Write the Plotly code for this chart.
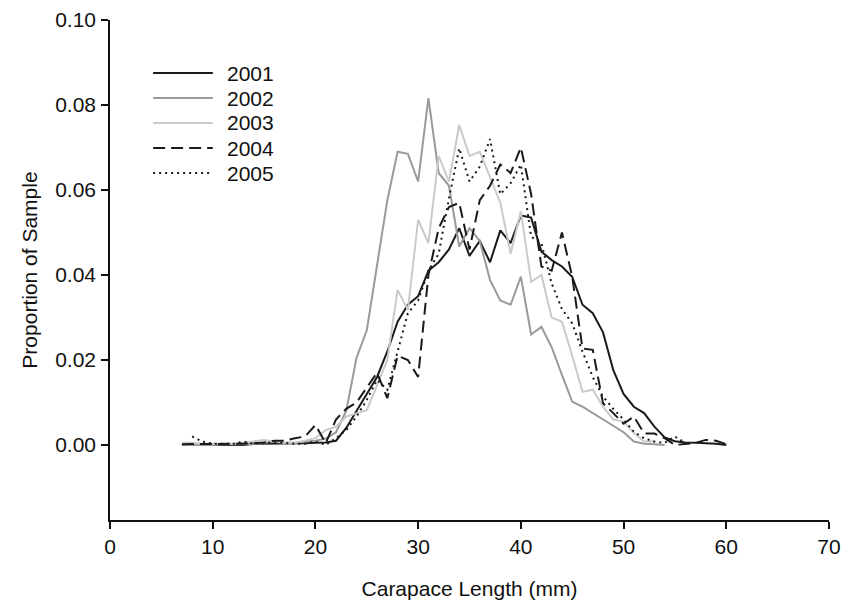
import plotly.graph_objects as go

lengths = list(range(7, 61))

y2001 = [0, 0, 0, 0, 0, 0, 0, 0.0003, 0.0003, 0.0003, 0.0003, 0.0003, 0.0004,
         0.0005, 0.0006, 0.001, 0.004, 0.008, 0.012, 0.016, 0.022, 0.029, 0.033, 0.035,
         0.041, 0.043, 0.046, 0.051, 0.0445, 0.048, 0.043, 0.0505, 0.0475, 0.054,
         0.0535, 0.0455, 0.0435, 0.042, 0.0396, 0.033, 0.031, 0.0265, 0.0176, 0.012,
         0.009, 0.0075, 0.0043, 0.0018, 0.0009, 0.0006, 0.0005, 0.0004, 0.0003, 0.0]

y2002 = [0, 0, 0, 0, 0.0002, 0.0002, 0.0002, 0.0002, 0.0005, 0.0008, 0.0005, 0.0005,
         0.0008, 0.001, 0.0015, 0.003, 0.008, 0.0205, 0.027, 0.042, 0.0576, 0.069,
         0.0685, 0.062, 0.0816, 0.064, 0.061, 0.0467, 0.051, 0.048, 0.0388, 0.034,
         0.033, 0.0396, 0.026, 0.0278, 0.023, 0.0165, 0.0102, 0.009, 0.0075, 0.006,
         0.0043, 0.003, 0.0008, 0.0003, 0.0002, 0.0, None, None, None, None, None, None]

y2003 = [0.0005, 0.0005, 0.0003, 0.0003, 0.0003, 0.0003, 0.0005, 0.0008, 0.0012,
         0.0008, 0.0005, 0.0005, 0.001, 0.0016, 0.0035, 0.0043, 0.0067, 0.0075, 0.0082,
         0.014, 0.020, 0.0365, 0.0318, 0.053, 0.0475, 0.068, 0.062, 0.0753, 0.068,
         0.069, 0.063, 0.057, 0.045, 0.055, 0.0384, 0.040, 0.030, 0.029, 0.021, 0.0125,
         0.013, 0.009, 0.006, 0.0055, 0.0028, 0.0008, 0.0008, None, None, None, None,
         None, None, None]

y2004 = [0.0002, 0.0002, 0.0002, 0.0002, 0.0002, 0.0003, 0.0003, 0.0004, 0.0006,
         0.001, 0.001, 0.0016, 0.002, 0.0047, 0.0004, 0.006, 0.0085, 0.010, 0.0135,
         0.017, 0.011, 0.021, 0.020, 0.016, 0.040, 0.051, 0.056, 0.057, 0.046, 0.0576,
         0.061, 0.066, 0.064, 0.070, 0.059, 0.042, 0.041, 0.050, 0.0396, 0.0227,
         0.0224, 0.0098, 0.0075, 0.005, 0.0067, 0.0027, 0.0027, 0.0016, 0.0, 0.0003,
         0.0005, 0.0012, 0.001, 0.0002]

y2005 = [None, 0.002, 0.0008, 0.0003, 0.0003, 0.0003, 0.0008, 0.0003, 0.0005,
         0.0005, 0.0005, 0.0003, 0.0003, 0.0008, 0.0, 0.0016, 0.0035, 0.0067, 0.0106,
         0.0153, 0.013, 0.022, 0.031, 0.034, 0.041, 0.045, 0.058, 0.0698, 0.062,
         0.0655, 0.072, 0.059, 0.0616, 0.066, 0.049, 0.0475, 0.038, 0.032, 0.0286,
         0.022, 0.016, 0.0114, 0.0085, 0.006, 0.0031, 0.0016, 0.0008, 0.0005, 0.002,
         0.0005, None, None, None, None]

x_ticks = [0, 10, 20, 30, 40, 50, 60, 70]
y_ticks = [0, 0.02, 0.04, 0.06, 0.08, 0.10]

series = [
    ("2001", y2001, "#1a1a1a", "solid"),
    ("2002", y2002, "#9a9a9a", "solid"),
    ("2003", y2003, "#cacaca", "solid"),
    ("2004", y2004, "#1a1a1a", "12px,6px"),
    ("2005", y2005, "#1a1a1a", "2px,4px"),
]

fig = go.Figure()
for name, ys, color, dash in series:
    fig.add_trace(go.Scatter(
        x=lengths, y=ys, name=name, mode="lines",
        line=dict(color=color, width=2, dash=dash),
        connectgaps=False, showlegend=False,
    ))

# custom legend (longer line samples, as in the reference)
leg_x0, leg_x1, leg_tx = 0.060, 0.143, 0.160
leg_top, leg_step = 0.894, 0.05
for i, (name, ys, color, dash) in enumerate(series):
    yy = leg_top - i * leg_step
    fig.add_shape(type="line", xref="paper", yref="paper",
                  x0=leg_x0, x1=leg_x1, y0=yy, y1=yy,
                  line=dict(color=color, width=2, dash=dash))
    fig.add_annotation(xref="paper", yref="paper", x=leg_tx, y=yy,
                       xanchor="left", yanchor="middle", text=name,
                       showarrow=False, font=dict(size=21, color="#111"))

font_family = "Liberation Sans, Arial, sans-serif"
fig.update_layout(
    width=842, height=592,
    margin=dict(l=102, r=21, t=12, b=80),
    paper_bgcolor="white", plot_bgcolor="white",
    font=dict(family=font_family, size=21, color="#111"),
    showlegend=False,
    xaxis=dict(
        range=[0, 70], tickvals=x_ticks, automargin=False,
        showline=True, linecolor="#111", linewidth=1.5,
        ticks="outside", ticklen=7, tickcolor="#111", tickwidth=1.5,
        tickfont=dict(size=21), ticklabelstandoff=0,
        showgrid=False, zeroline=False,
        title=dict(text="Carapace Length (mm)", standoff=31, font=dict(size=21)),
    ),
    yaxis=dict(
        range=[-0.01765, 0.10], tickvals=y_ticks, automargin=False,
        tickformat=".2f",
        showline=True, linecolor="#111", linewidth=1.5,
        ticks="outside", ticklen=7, tickcolor="#111", tickwidth=1.5,
        tickfont=dict(size=21), ticklabelstandoff=1,
        showgrid=False, zeroline=False,
        title=dict(text="Proportion of Sample", standoff=12, font=dict(size=21)),
    ),
)

fig.write_html("out.html")
